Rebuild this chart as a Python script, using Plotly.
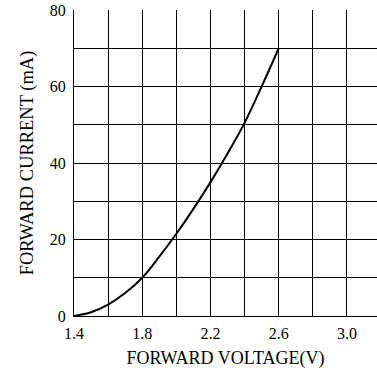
import plotly.graph_objects as go

voltage = [1.4, 1.5, 1.6, 1.7, 1.8, 1.9, 2.0, 2.1, 2.2, 2.3, 2.4, 2.5, 2.6]
current = [0.0, 1.0, 3.0, 6.0, 10.0, 15.5, 21.5, 28.0, 35.0, 42.5, 50.5, 60.0, 70.0]

x_tickvals = [1.4, 1.6, 1.8, 2.0, 2.2, 2.4, 2.6, 2.8, 3.0, 3.2]
x_ticktext = ["1.4", "", "1.8", "", "2.2", "", "2.6", "", "3.0", ""]
y_tickvals = [0, 10, 20, 30, 40, 50, 60, 70, 80]
y_ticktext = ["0", "", "20", "", "40", "", "60", "", "80"]

tick_font = dict(family="Liberation Serif", size=16, color="black")
xtitle_font = dict(family="Liberation Serif", size=18, color="black")
ytitle_font = dict(family="Liberation Serif", size=18.5, color="black")

fig = go.Figure()
fig.add_trace(go.Scatter(x=voltage, y=current, mode="lines",
                         line=dict(color="black", width=2, shape="spline"),
                         showlegend=False))

fig.update_layout(
    width=377, height=379,
    margin=dict(l=74, r=0, t=10, b=63, autoexpand=False),
    paper_bgcolor="white", plot_bgcolor="white",
    font=tick_font,
    xaxis=dict(range=[1.4, 3.176], tickvals=x_tickvals, ticktext=x_ticktext,
               showgrid=True, gridcolor="black", gridwidth=1,
               showline=True, linecolor="black", linewidth=1,
               zeroline=False, ticks="outside", ticklen=3, tickcolor="rgba(0,0,0,0)",
               tickfont=tick_font, automargin=False,
               title=dict(text="FORWARD VOLTAGE(V)", font=xtitle_font, standoff=10)),
    yaxis=dict(range=[0, 80], tickvals=y_tickvals, ticktext=y_ticktext,
               showgrid=True, gridcolor="black", gridwidth=1,
               showline=True, linecolor="black", linewidth=1,
               zeroline=False, ticks="outside", ticklen=4, tickcolor="rgba(0,0,0,0)",
               tickfont=tick_font, automargin=False,
               title=dict(text="FORWARD CURRENT (mA)", font=ytitle_font, standoff=11)),
)

fig.write_html("out.html",
               config={"displayModeBar": False},
               post_script="document.body.style.margin='0';document.body.style.overflow='hidden';")
